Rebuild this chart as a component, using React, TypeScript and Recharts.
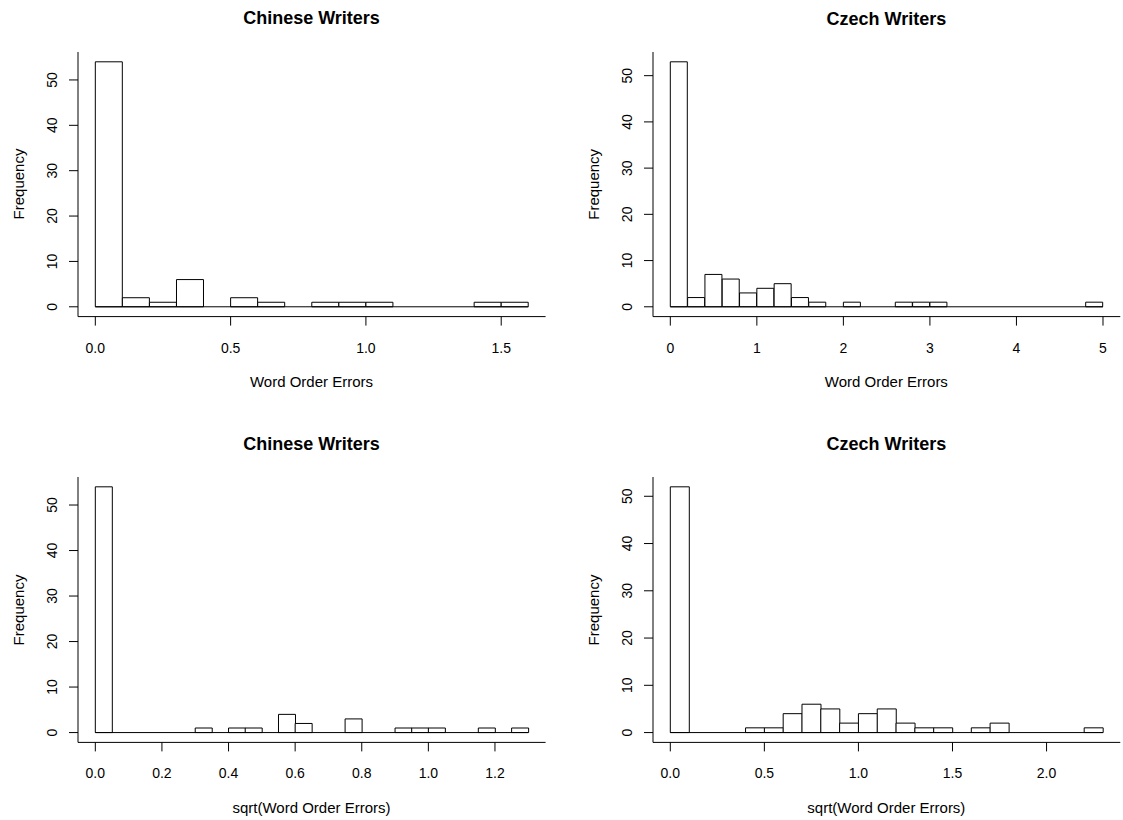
import React from 'react';
import { BarChart, Bar, XAxis, YAxis, ReferenceLine } from 'recharts';

// ---------- data ----------
const chineseRawBinWidth = 0.1;
const chineseRawCounts = [54, 2, 1, 6, 0, 2, 1, 0, 1, 1, 1, 0, 0, 0, 1, 1];
const chineseRawTicks = [0, 0.5, 1, 1.5];
const chineseRawTickLabels = ['0.0', '0.5', '1.0', '1.5'];

const czechRawBinWidth = 0.2;
const czechRawCounts = [53, 2, 7, 6, 3, 4, 5, 2, 1, 0, 1, 0, 0, 1, 1, 1, 0, 0, 0, 0, 0, 0, 0, 0, 1];
const czechRawTicks = [0, 1, 2, 3, 4, 5];
const czechRawTickLabels = ['0', '1', '2', '3', '4', '5'];

const chineseSqrtBinWidth = 0.05;
const chineseSqrtCounts = [54, 0, 0, 0, 0, 0, 1, 0, 1, 1, 0, 4, 2, 0, 0, 3, 0, 0, 1, 1, 1, 0, 0, 1, 0, 1];
const chineseSqrtTicks = [0, 0.2, 0.4, 0.6, 0.8, 1.0, 1.2];
const chineseSqrtTickLabels = ['0.0', '0.2', '0.4', '0.6', '0.8', '1.0', '1.2'];

const czechSqrtBinWidth = 0.1;
const czechSqrtCounts = [52, 0, 0, 0, 1, 1, 4, 6, 5, 2, 4, 5, 2, 1, 1, 0, 1, 2, 0, 0, 0, 0, 1];
const czechSqrtTicks = [0, 0.5, 1, 1.5, 2];
const czechSqrtTickLabels = ['0.0', '0.5', '1.0', '1.5', '2.0'];

const yTicks = [0, 10, 20, 30, 40, 50];
const yTickLabels = ['0', '10', '20', '30', '40', '50'];

const titles = ['Chinese Writers', 'Czech Writers', 'Chinese Writers', 'Czech Writers'];
const xTitles = ['Word Order Errors', 'Word Order Errors', 'sqrt(Word Order Errors)', 'sqrt(Word Order Errors)'];
const yTitle = 'Frequency';

// ---------- layout ----------
const FONT = '"Liberation Sans", Arial, Helvetica, sans-serif';
const AXW = 78; // y axis width
const TOPM = 52;
const AXH = 60;
const RIGHTM = 10;

const panels = [
  { left: 77.7, top: 51.7, w: 467.6, h: 264.6 },
  { left: 652.7, top: 52.0, w: 467.3, h: 264.6 },
  { left: 77.7, top: 477.3, w: 467.6, h: 265.4 },
  { left: 652.7, top: 477.3, w: 467.3, h: 265.4 },
];

const YTick = (props: any) => {
  const { x, y, payload } = props;
  const i = yTicks.indexOf(payload.value);
  return (
    <text
      x={x}
      y={y}
      transform={`rotate(-90 ${x} ${y})`}
      textAnchor="middle"
      fontSize={14}
      fontFamily={FONT}
      fill="#000"
    >
      {i >= 0 ? yTickLabels[i] : payload.value}
    </text>
  );
};

type HistProps = {
  counts: number[];
  binWidth: number;
  xTicks: number[];
  xTickLabels: string[];
  panel: { left: number; top: number; w: number; h: number };
};

const Hist = ({ counts, binWidth, xTicks, xTickLabels, panel }: HistProps) => {
  const xMax = counts.length * binWidth;
  const xPad = xMax * 0.04;
  const yMax = Math.max(...counts);
  const yPad = yMax * 0.04;
  const data = counts.map((c, i) => ({ x: Number(((i + 0.5) * binWidth).toFixed(5)), count: c }));
  const width = AXW + panel.w + RIGHTM;
  const height = TOPM + panel.h + AXH;
  const XTick = (props: any) => {
    const { x, y, payload } = props;
    const i = xTicks.findIndex((t) => Math.abs(t - payload.value) < 1e-9);
    return (
      <text x={x} y={y} dy={10} textAnchor="middle" fontSize={14} fontFamily={FONT} fill="#000">
        {i >= 0 ? xTickLabels[i] : payload.value}
      </text>
    );
  };
  return (
    <div style={{ position: 'absolute', left: panel.left - AXW, top: panel.top - TOPM }}>
      <BarChart
        width={width}
        height={height}
        data={data}
        margin={{ top: TOPM, right: RIGHTM, bottom: 0, left: 0 }}
        barCategoryGap={0}
        barGap={0}
      >
        <XAxis
          dataKey="x"
          type="number"
          domain={[-xPad, xMax + xPad]}
          allowDataOverflow
          ticks={xTicks}
          interval={0}
          height={AXH}
          tickSize={9}
          tickMargin={17}
          tick={<XTick />}
          stroke="#000"
          axisLine={{ stroke: '#000' }}
          tickLine={{ stroke: '#000' }}
        />
        <XAxis
          xAxisId="top"
          orientation="top"
          type="number"
          domain={[-xPad, xMax + xPad]}
          allowDataOverflow
          height={0}
          tick={false}
          tickLine={false}
          axisLine={{ stroke: '#000' }}
        />
        <YAxis
          type="number"
          domain={[-yPad, yMax + yPad]}
          allowDataOverflow
          ticks={yTicks}
          interval={0}
          width={AXW}
          tickSize={9}
          tickMargin={12}
          tick={<YTick />}
          axisLine={{ stroke: '#000' }}
          tickLine={{ stroke: '#000' }}
        />
        <YAxis
          yAxisId="right"
          orientation="right"
          type="number"
          domain={[-yPad, yMax + yPad]}
          allowDataOverflow
          width={0}
          tick={false}
          tickLine={false}
          axisLine={{ stroke: '#000' }}
        />
        <ReferenceLine
          segment={[
            { x: 0, y: 0 },
            { x: xMax, y: 0 },
          ]}
          stroke="#000"
          strokeWidth={1}
        />
        <Bar dataKey="count" fill="#fff" stroke="#000" strokeWidth={1} isAnimationActive={false} />
      </BarChart>
    </div>
  );
};

export default function App() {
  const series = [
    { counts: chineseRawCounts, binWidth: chineseRawBinWidth, xTicks: chineseRawTicks, xTickLabels: chineseRawTickLabels },
    { counts: czechRawCounts, binWidth: czechRawBinWidth, xTicks: czechRawTicks, xTickLabels: czechRawTickLabels },
    { counts: chineseSqrtCounts, binWidth: chineseSqrtBinWidth, xTicks: chineseSqrtTicks, xTickLabels: chineseSqrtTickLabels },
    { counts: czechSqrtCounts, binWidth: czechSqrtBinWidth, xTicks: czechSqrtTicks, xTickLabels: czechSqrtTickLabels },
  ];
  return (
    <div style={{ position: 'absolute', left: 0, top: 0, width: 1123, height: 820, background: '#fff', overflow: 'hidden' }}>
      {series.map((s, i) => (
        <Hist key={i} {...s} panel={panels[i]} />
      ))}
      <svg width={1123} height={820} style={{ position: 'absolute', left: 0, top: 0, pointerEvents: 'none' }}>
        {panels.map((p, i) => {
          const cx = p.left + p.w / 2;
          const cy = p.top + p.h / 2;
          const fx = p.left - 54;
          return (
            <g key={i} fontFamily={FONT} fill="#000">
              <text x={cx} y={p.top - 27.5} textAnchor="middle" fontSize={18} fontWeight="bold">
                {titles[i]}
              </text>
              <text x={cx} y={p.top + p.h + 70.5} textAnchor="middle" fontSize={15}>
                {xTitles[i]}
              </text>
              <text x={fx} y={cy} transform={`rotate(-90 ${fx} ${cy})`} textAnchor="middle" fontSize={15}>
                {yTitle}
              </text>
            </g>
          );
        })}
      </svg>
    </div>
  );
}
